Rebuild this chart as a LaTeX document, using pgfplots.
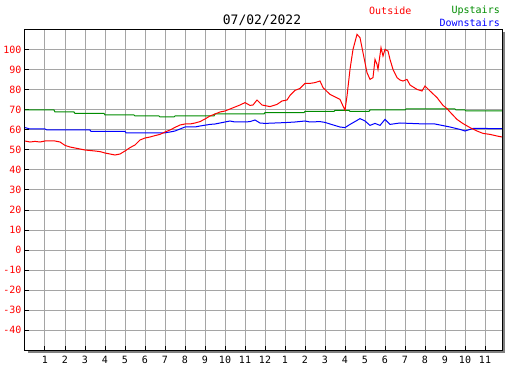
\documentclass[border=0pt]{standalone}
\usepackage{pgfplots}
\pgfplotsset{compat=1.18}
\usepackage{fontspec}
\setmainfont{DejaVu Sans Mono}
\definecolor{gridgray}{RGB}{165,165,165}
\definecolor{upgreen}{RGB}{0,140,0}
\begin{document}
\begin{tikzpicture}
\useasboundingbox (0,0) rectangle (527pt,370pt);
\begin{axis}[
  at={(25pt,20pt)}, anchor=south west,
  scale only axis, width=477pt, height=320pt,
  xmin=0, xmax=23.85, ymin=-50, ymax=110,
  xtick={1,...,23},
  xticklabels={1,2,3,4,5,6,7,8,9,10,11,12,1,2,3,4,5,6,7,8,9,10,11},
  ytick={-40,-30,...,100},
  yticklabels={-40,-30,-20,-10,0,10,20,30,40,50,60,70,80,90,100},
  xtick pos=lower, ytick pos=left,
  tick align=inside, major tick length=4pt,
  tick style={black, line width=1pt},
  grid=major,
  major grid style={gridgray, line width=1pt},
  axis line style={black, line width=1pt},
  ticklabel style={font=\fontsize{10}{12}\selectfont},
  yticklabel style={text=red},
  xticklabel style={text=black, yshift=-3pt},
  /pgf/number format/assume math mode=true,
  clip=true,
]
% Upstairs
\addplot[upgreen, line width=1pt] coordinates {
(0,70)(1.45,70)(1.5,69)(2.45,69)(2.5,68.3)(3.95,68.3)(4,67.5)(5.45,67.5)(5.5,67)(6.7,67)(6.75,66.5)(7.45,66.5)(7.5,67)(9.45,67)(9.5,68)(11.95,68)(12,68.7)(13.95,68.7)(14,69.3)(15.45,69.3)(15.5,69.8)(16.2,69.8)(16.25,69.3)(17.2,69.3)(17.25,70)(19,70)(19.05,70.5)(21.5,70.5)(21.55,70)(22,70)(22.05,69.5)(23.85,69.5)
};
% Downstairs
\addplot[blue, line width=1pt] coordinates {
(0,61.2)(0.25,60.5)(1,60.5)(1.1,60)(3.25,60)(3.3,59.3)(5,59.3)(5.05,58.6)(7,58.6)(7.25,59)(7.5,59.5)(7.75,60.5)(8,61.5)(8.5,61.5)(8.75,62)(9.25,62.8)(9.5,63)(10,64)(10.25,64.5)(10.5,64)(11,64)(11.25,64.2)(11.5,65)(11.75,63.5)(12,63.3)(13,63.7)(13.5,64)(14,64.5)(14.25,64)(14.75,64.2)(15,63.8)(15.25,63)(15.75,61.5)(16,61.2)(16.25,62.8)(16.6,64.8)(16.75,65.7)(17,64.5)(17.25,62.3)(17.5,63.3)(17.75,62.3)(18,65.3)(18.25,62.8)(18.75,63.5)(19.25,63.3)(20,63)(20.5,63)(20.75,62.5)(21.25,61.5)(21.75,60.3)(22,59.5)(22.25,60.3)(22.4,60.8)(23.85,60.7)
};
% Outside
\addplot[red, line width=1pt] coordinates {
(0,54.5)(0.25,54)(0.5,54.3)(0.75,54)(1.0,54.5)(1.25,54.5)(1.5,54.5)(1.75,54)(2.0,52.3)(2.25,51.5)(2.5,51)(3.0,50)(3.5,49.5)(3.75,49.2)(4.0,48.5)(4.25,48)(4.5,47.5)(4.75,48)(5.0,49.5)(5.25,51.2)(5.5,52.5)(5.75,55)(6.0,56)(6.25,56.5)(6.5,57.2)(6.75,57.8)(7.0,59)(7.25,60)(7.5,61.3)(7.75,62.5)(8.0,63)(8.25,63)(8.5,63.5)(8.75,64.2)(9.0,65.5)(9.25,67)(9.5,68)(9.75,69)(10.0,69.5)(10.25,70.5)(10.5,71.5)(10.75,72.5)(11.0,73.7)(11.25,72.3)(11.4,72.5)(11.6,75)(11.85,72.5)(12.25,71.7)(12.6,72.8)(12.85,74.5)(13.1,75)(13.25,77.3)(13.5,79.8)(13.75,80.8)(14.0,83.3)(14.25,83.3)(14.5,83.7)(14.75,84.5)(14.9,81.2)(15.25,77.8)(15.75,75.3)(15.9,72)(16.0,70)(16.1,77)(16.25,90.3)(16.4,100.3)(16.6,107.8)(16.75,106.2)(16.9,98.7)(17.1,88.7)(17.25,85.3)(17.4,86.2)(17.5,95.3)(17.6,92.8)(17.65,90.3)(17.8,101.2)(17.9,97)(18.0,100.3)(18.15,99.5)(18.25,95.3)(18.4,90.3)(18.6,86.2)(18.75,85)(18.9,84.5)(19.1,85.3)(19.25,82.5)(19.6,80.3)(19.85,79.5)(20.0,82)(20.25,79.5)(20.6,76.2)(20.9,72.3)(21.1,70.7)(21.25,69)(21.6,65.3)(21.9,63.2)(22.25,61.2)(22.6,59.5)(22.9,58.3)(23.25,57.8)(23.6,57)(23.85,56.5)
};
\end{axis}
% shadow of the frame
\draw[gray, line width=1.5pt] (504pt,338pt) -- (504pt,18pt) -- (28pt,18pt);
\node[font=\fontsize{13}{15}\selectfont, inner sep=0pt] at (262pt,350pt) {07/02/2022};
\node[font=\fontsize{10}{12}\selectfont, text=red, anchor=west, inner sep=0pt] at (369pt,359pt) {Outside};
\node[font=\fontsize{10}{12}\selectfont, text=upgreen, anchor=east, inner sep=0pt] at (500pt,359pt) {Upstairs};
\node[font=\fontsize{10}{12}\selectfont, text=blue, anchor=east, inner sep=0pt] at (500pt,347pt) {Downstairs};
\end{tikzpicture}
\end{document}
